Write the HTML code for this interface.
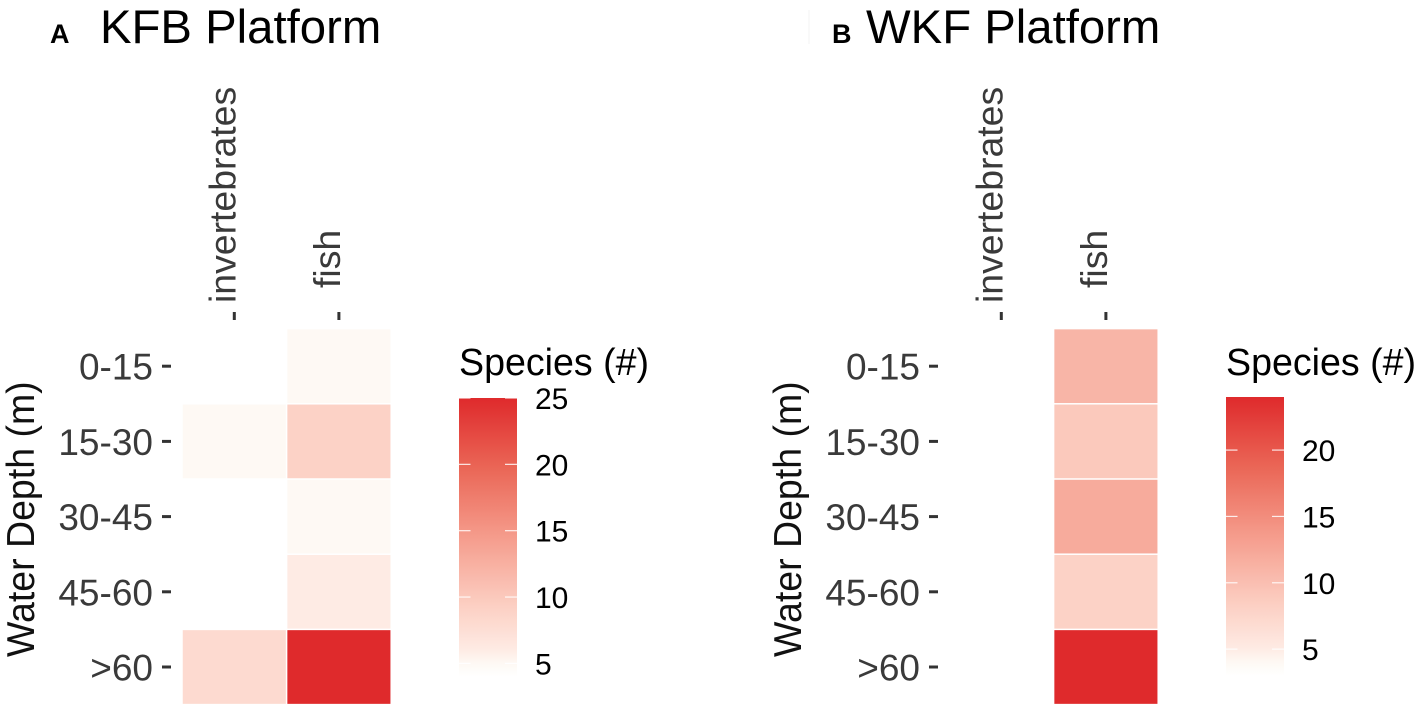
<!DOCTYPE html>
<html lang="en">
<head>
<meta charset="utf-8">
<title>Species richness by water depth: KFB and WKF platforms</title>
<style>
html,body{margin:0;padding:0;background:#fff;}
svg{display:block;font-family:"Liberation Sans",Arial,sans-serif;}
</style>
</head>
<body>
<svg id="chart" xmlns="http://www.w3.org/2000/svg" width="1417" height="709" viewBox="0 0 1417 709">
  <rect x="0" y="0" width="1417" height="709" fill="#ffffff"/>
  <rect x="808" y="10" width="2" height="34" fill="#f9f9f9"/>
  <defs id="gradients"></defs>
</svg>
<script>
const depthLabels = ['0-15', '15-30', '30-45', '45-60', '>60'];
const taxonLabels = ['invertebrates', 'fish'];
const kfbInvertebrates = [4, 5, 4, 4, 8];
const kfbFish = [5, 9, 5, 6, 25];
const wkfInvertebrates = [null, null, null, null, null];
const wkfFish = [11, 9, 12, 8, 24];
const kfbLegendDomain = [4, 25];
const wkfLegendDomain = [3, 24];
const kfbLegendTicks = [25, 20, 15, 10, 5];
const wkfLegendTicks = [20, 15, 10, 5];
const legendTitle = 'Species (#)';
const yAxisTitle = 'Water Depth (m)';

const svg = document.getElementById('chart');
const defs = document.getElementById('gradients');
const NS = 'http://www.w3.org/2000/svg';

function mk(tag, attrs, parent, text) {
  const el = document.createElementNS(NS, tag);
  Object.keys(attrs).forEach(function (k) { el.setAttribute(k, attrs[k]); });
  if (text !== undefined) el.textContent = text;
  parent.appendChild(el);
  return el;
}

const colorStops = [
  [0, [255, 255, 255]],
  [0.048, [254, 249, 244]],
  [0.095, [254, 235, 228]],
  [0.25, [252, 208, 196]],
  [0.5, [245, 156, 140]],
  [0.75, [234, 102, 86]],
  [1, [223, 42, 44]]
];

function colorAt(t) {
  const c = Math.max(0, Math.min(1, t));
  for (let i = 1; i < colorStops.length; i++) {
    if (c <= colorStops[i][0]) {
      const a = colorStops[i - 1], b = colorStops[i];
      const f = (c - a[0]) / (b[0] - a[0]);
      const rgb = a[1].map(function (v, j) { return Math.round(v + (b[1][j] - v) * f); });
      return 'rgb(' + rgb.join(',') + ')';
    }
  }
  return 'rgb(223,42,44)';
}

function drawPanel(p) {
  const g = mk('g', {}, svg);
  
  

  const plotLeft = 182 + p.dx, stepX = 104.6, plotTop = 328.6, stepY = 75.2, gap = 1.5;
  const xLeft = function (i) { return plotLeft + i * stepX; };
  const xCenter = function (i) { return xLeft(i) + stepX / 2; };
  const yTop = function (i) { return plotTop + i * stepY; };
  const yCenter = function (i) { return yTop(i) + stepY / 2; };
  const span = p.domain[1] - p.domain[0];
  const norm = function (v) { return (v - p.domain[0]) / span; };

  const tagText = mk('text', { x: p.tagX, y: 43, 'font-size': 27, 'font-weight': 'bold', fill: '#000' }, g, p.tag);
  
  

  const title = mk('text', { x: p.titleX, y: 43, 'font-size': 47.3, fill: '#000' }, g, p.title);
  
  

  const yTitle = mk('text', { transform: 'translate(' + (34 + p.dx) + ' 657) rotate(-90) scale(1 1.05)', 'font-size': 37.5, fill: '#111' }, g, yAxisTitle);
  
  

  depthLabels.forEach(function (label, i) {
    const t = mk('text', { x: 153 + p.dx, y: yCenter(i) + 13.5, 'font-size': 37, 'text-anchor': 'end', fill: '#3a3a3a' }, g, label);
    
    
    const tick = mk('rect', { x: 162 + p.dx, y: yCenter(i) - 1.5, width: 9, height: 3, fill: '#333' }, g);
    
    
  });

  const xLabelBottom = [303, 288];
  taxonLabels.forEach(function (label, j) {
    const t = mk('text', { transform: 'translate(' + (xCenter(j) + 1) + ' ' + xLabelBottom[j] + ') rotate(-90)', 'font-size': 37.4, fill: '#3a3a3a' }, g, label);
    
    
    const tick = mk('rect', { x: xCenter(j) - 1.5, y: 312, width: 3, height: 8, fill: '#333' }, g);
    
    
  });

  p.series.forEach(function (values, j) {
    values.forEach(function (v, i) {
      if (v === null) return;
      const cell = mk('rect', {
        x: xLeft(j) + gap / 2, y: yTop(i) + gap / 2,
        width: stepX - gap, height: stepY - gap,
        fill: colorAt(norm(v))
      }, g);
      
      
    });
  });

  const legendX = 459 + p.legendDx, legendW = 58, unitPx = 13.27;
  const legendTop = p.legendTop;
  const legendY = function (v) { return legendTop + (p.domain[1] - v) * unitPx; };
  const legendHeight = span * unitPx;

  const grad = mk('linearGradient', { id: p.key + '-gradient', x1: 0, y1: 1, x2: 0, y2: 0 }, defs);
  for (let s = 0; s <= 40; s++) {
    mk('stop', { offset: s / 40, 'stop-color': colorAt(s / 40) }, grad);
  }

  const lt = mk('text', { x: legendX, y: 375, 'font-size': 37.6, fill: '#000' }, g, legendTitle);
  
  

  const bar = mk('rect', { x: legendX, y: legendTop, width: legendW, height: legendHeight, fill: 'url(#' + p.key + '-gradient)' }, g);
  
  

  p.ticks.forEach(function (v) {
    const y = legendY(v);
    const left = mk('rect', { x: legendX, y: y - 0.6, width: 11.5, height: 1.2, fill: '#ffffff', opacity: 0.85 }, g);
    
    
    const right = mk('rect', { x: legendX + legendW - 12, y: y - 0.6, width: 12, height: 1.2, fill: '#ffffff', opacity: 0.85 }, g);
    
    
    const lab = mk('text', { x: p.legendLabelX, y: y + 11, 'font-size': 30, fill: '#000' }, g, String(v));
    
    
  });
}

drawPanel({
  key: 'kfb', tag: 'A', title: 'KFB Platform', tagX: 50, titleX: 100, dx: 0,
  series: [kfbInvertebrates, kfbFish], domain: kfbLegendDomain, ticks: kfbLegendTicks,
  legendDx: 0, legendTop: 398, legendLabelX: 535
});
drawPanel({
  key: 'wkf', tag: 'B', title: 'WKF Platform', tagX: 832, titleX: 866, dx: 767,
  series: [wkfInvertebrates, wkfFish], domain: wkfLegendDomain, ticks: wkfLegendTicks,
  legendDx: 767, legendTop: 397, legendLabelX: 1302
});
</script>
</body>
</html>
